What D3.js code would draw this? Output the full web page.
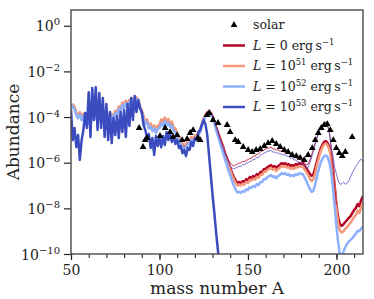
<!DOCTYPE html>
<html>
<head>
<meta charset="utf-8">
<script src="https://cdn.jsdelivr.net/npm/d3@7"></script>
<style>
  body { margin: 0; background: #fff; }
  svg { display: block; }
  text { font-family: "DejaVu Serif", serif; fill: #222; }
</style>
</head>
<body>
<div id="chart"></div>
<script>
// log10(abundance) per mass number, one value per integer A
var A_START = 50
var lum0 = [-3.60,-3.47,-3.60,-3.87,-4.00,-3.82,-4.09,-3.91,-4.18,-4.04,-4.22,-3.96,-4.09,-3.82,-4.00,-3.82,-4.00,-3.78,-4.04,-3.87,
  -4.13,-3.96,-4.18,-3.91,-4.04,-3.78,-3.91,-3.60,-3.69,-3.43,-3.56,-3.34,-3.52,-3.30,-3.43,-3.21,-3.34,-3.17,-3.26,-3.60,
  -3.78,-4.04,-4.26,-4.17,-4.44,-4.35,-4.57,-4.44,-4.66,-4.48,-4.44,-4.22,-4.35,-4.13,-4.31,-4.18,-4.39,-4.31,-4.57,-4.61,
  -4.83,-4.96,-5.14,-5.27,-5.31,-5.27,-5.14,-5.09,-4.96,-5.05,-4.88,-4.92,-4.74,-4.61,-4.35,-4.09,-3.91,-3.82,-3.74,-3.82,
  -3.96,-4.18,-4.44,-4.66,-4.88,-5.09,-5.31,-5.58,-5.80,-6.02,-6.24,-6.45,-6.63,-6.76,-6.89,-6.85,-6.89,-6.80,-6.85,-6.72,
  -6.76,-6.63,-6.67,-6.58,-6.63,-6.50,-6.54,-6.41,-6.41,-6.28,-6.28,-6.19,-6.15,-6.10,-6.19,-6.15,-6.24,-6.15,-6.10,-6.02,
  -6.06,-6.02,-6.10,-6.06,-6.15,-6.10,-6.15,-6.06,-6.10,-6.02,-6.06,-6.02,-6.15,-6.24,-6.37,-6.50,-6.58,-6.50,-6.24,-5.93,
  -5.66,-5.40,-5.23,-5.09,-5.05,-5.14,-5.31,-5.66,-6.24,-7.02,-7.85,-8.42,-8.69,-8.77,-8.69,-8.60,-8.51,-8.42,-8.34,-8.20,
  -8.07,-7.98,-7.81,-7.90,-7.63,-7.46]
var lum51 = [-3.55,-3.45,-3.56,-3.82,-3.95,-3.78,-4.03,-3.86,-4.12,-4.00,-4.17,-3.92,-4.04,-3.78,-3.95,-3.78,-3.95,-3.74,-3.99,-3.83,
  -4.08,-3.91,-4.12,-3.86,-3.98,-3.72,-3.84,-3.53,-3.62,-3.36,-3.50,-3.28,-3.46,-3.25,-3.38,-3.17,-3.30,-3.14,-3.22,-3.52,
  -3.70,-3.96,-4.18,-4.10,-4.35,-4.28,-4.48,-4.36,-4.56,-4.38,-4.32,-4.10,-4.22,-4.02,-4.20,-4.08,-4.28,-4.20,-4.46,-4.50,
  -4.72,-4.86,-5.04,-5.18,-5.22,-5.18,-5.06,-5.00,-4.88,-4.96,-4.80,-4.84,-4.66,-4.54,-4.30,-4.05,-3.88,-3.80,-3.74,-3.84,
  -4.00,-4.24,-4.50,-4.74,-4.96,-5.18,-5.40,-5.67,-5.90,-6.12,-6.34,-6.55,-6.73,-6.87,-7.00,-6.96,-7.00,-6.92,-6.96,-6.84,
  -6.88,-6.75,-6.78,-6.70,-6.74,-6.62,-6.66,-6.53,-6.53,-6.40,-6.40,-6.31,-6.27,-6.22,-6.31,-6.27,-6.36,-6.27,-6.22,-6.14,
  -6.18,-6.14,-6.22,-6.18,-6.27,-6.22,-6.27,-6.18,-6.22,-6.14,-6.18,-6.16,-6.30,-6.40,-6.55,-6.70,-6.80,-6.72,-6.44,-6.10,
  -5.80,-5.52,-5.34,-5.20,-5.15,-5.24,-5.42,-5.80,-6.40,-7.20,-8.05,-8.68,-8.98,-9.06,-9.00,-8.90,-8.82,-8.72,-8.62,-8.50,
  -8.38,-8.28,-8.10,-8.20,-7.92,-7.76]
var lum52 = [-3.62,-3.52,-3.66,-3.92,-4.06,-3.88,-4.14,-3.97,-4.24,-4.10,-4.28,-4.00,-4.14,-3.86,-4.04,-3.86,-4.03,-3.82,-4.08,-3.90,
  -4.16,-3.99,-4.22,-3.95,-4.08,-3.82,-3.95,-3.64,-3.73,-3.47,-3.60,-3.38,-3.56,-3.34,-3.47,-3.25,-3.38,-3.20,-3.30,-3.64,
  -3.82,-4.08,-4.30,-4.22,-4.50,-4.40,-4.62,-4.50,-4.70,-4.53,-4.48,-4.27,-4.40,-4.18,-4.36,-4.24,-4.44,-4.36,-4.62,-4.66,
  -4.88,-5.01,-5.20,-5.32,-5.36,-5.32,-5.20,-5.14,-5.01,-5.10,-4.93,-4.97,-4.80,-4.66,-4.40,-4.14,-3.96,-3.86,-3.80,-3.88,
  -4.04,-4.28,-4.56,-4.82,-5.08,-5.33,-5.58,-5.86,-6.10,-6.34,-6.56,-6.80,-7.00,-7.18,-7.30,-7.28,-7.32,-7.24,-7.28,-7.16,
  -7.20,-7.07,-7.10,-7.02,-7.06,-6.94,-6.98,-6.85,-6.85,-6.72,-6.72,-6.63,-6.59,-6.54,-6.63,-6.59,-6.68,-6.59,-6.54,-6.46,
  -6.50,-6.46,-6.54,-6.50,-6.59,-6.54,-6.59,-6.50,-6.54,-6.46,-6.50,-6.50,-6.65,-6.80,-7.00,-7.15,-7.28,-7.22,-6.95,-6.60,
  -6.30,-6.02,-5.84,-5.72,-5.68,-5.76,-5.98,-6.40,-7.10,-7.90,-8.80,-9.50,-10.05,-10.15,-9.90,-9.70,-9.55,-9.45,-9.38,-9.30,
  -9.20,-9.10,-8.98,-9.00,-8.88,-8.78]
var lum53 = [-3.69,-5.01,-4.48,-5.32,-4.79,-5.88,-5.01,-4.57,-3.82,-4.48,-2.91,-4.87,-2.73,-4.13,-2.69,-4.57,-2.95,-4.48,-3.17,-4.87,
  -3.43,-5.01,-3.78,-5.14,-4.04,-4.79,-3.96,-4.92,-3.78,-4.66,-3.69,-4.87,-3.43,-4.39,-3.17,-4.13,-3.08,-3.78,-3.26,-3.60,
  -3.78,-4.35,-4.57,-4.92,-4.74,-5.36,-4.92,-5.66,-4.83,-5.27,-4.92,-5.32,-4.83,-5.23,-4.66,-5.01,-4.74,-5.09,-4.83,-5.18,
  -5.01,-5.36,-5.27,-5.58,-5.44,-5.71,-5.36,-5.44,-5.09,-5.27,-4.92,-5.01,-4.66,-4.57,-4.31,-4.13,-4.31,-4.79,-5.67,-6.54,
  -7.42,-8.20,-9.05,-9.83,-10.60]
// thin curves, starting at A = 128
var THIN_START = 128
var thinRed = [-3.74,-3.82,-3.96,-4.13,-4.39,-4.61,-4.88,-5.09,-5.31,-5.53,-5.71,-5.88,-6.01,-6.10,-6.15,-6.10,-6.06,-6.01,-6.01,-5.93,
  -5.97,-5.88,-5.88,-5.80,-5.80,-5.71,-5.71,-5.62,-5.62,-5.53,-5.49,-5.44,-5.40,-5.36,-5.36,-5.31,-5.40,-5.40,-5.44,-5.44,
  -5.49,-5.49,-5.53,-5.53,-5.58,-5.58,-5.66,-5.66,-5.75,-5.75,-5.84,-5.84,-5.88,-5.93,-6.01,-6.10,-6.06,-5.88,-5.66,-5.40,
  -5.14,-4.88,-4.66,-4.48,-4.35,-4.26,-4.22,-4.35,-4.66,-5.27,-6.15,-7.02,-7.85]
var thinBlue = [-3.74,-3.82,-3.96,-4.15,-4.42,-4.66,-4.93,-5.16,-5.38,-5.62,-5.82,-6.00,-6.14,-6.24,-6.28,-6.24,-6.20,-6.15,-6.16,-6.07,
  -6.10,-6.01,-6.02,-5.94,-5.94,-5.85,-5.86,-5.76,-5.77,-5.67,-5.64,-5.58,-5.55,-5.50,-5.50,-5.45,-5.54,-5.53,-5.58,-5.57,
  -5.62,-5.62,-5.67,-5.66,-5.72,-5.71,-5.80,-5.79,-5.88,-5.88,-5.97,-5.97,-6.02,-6.06,-6.15,-6.24,-6.20,-6.00,-5.76,-5.48,
  -5.20,-4.93,-4.70,-4.50,-4.38,-4.28,-4.25,-4.38,-4.70,-5.30,-5.70,-6.20,-6.50,-6.80,-6.95,-6.92,-6.85,-6.95,-6.90,-6.80,
  -6.60,-6.45,-6.30,-6.15,-6.05,-5.90,-5.85,-5.98]
// solar abundances
var solarA = [88.5,90.7,91.9,93.0,100.3,103.2,106.0,107.7,110.0,112.8,115.6,117.3,119.0,121.8,123.0,126.9,128.1,130.3,133.1,138.2,
  139.9,142.8,144.5,147.3,150.1,152.4,154.6,156.9,159.2,161.4,163.7,166.0,168.2,170.5,172.7,175.0,177.3,179.5,181.8,184.0,
  186.3,188.0,189.7,191.4,193.1,194.8,196.5,198.2,199.9,201.6,203.3,205.0,208.9]
var solarLog = [-4.48,-5.31,-5.01,-4.92,-4.83,-4.48,-4.66,-4.87,-4.79,-5.01,-4.96,-4.70,-4.57,-4.92,-5.01,-3.91,-3.82,-4.13,-4.26,-4.35,
  -4.66,-5.01,-5.09,-5.31,-5.44,-5.53,-5.44,-5.40,-5.27,-5.14,-5.05,-5.18,-5.31,-5.44,-5.53,-5.66,-5.71,-5.79,-5.88,-5.66,
  -5.36,-5.01,-4.70,-4.48,-4.35,-4.31,-4.57,-5.01,-5.36,-5.58,-5.71,-5.53,-4.88]

var yTicks = [-10, -8, -6, -4, -2, 0]
var xTicks = [50, 100, 150, 200]
var legendNames = ["0", "10", "10", "10"]
var legendSups = ["", "51", "52", "53"]
var colors = ["#b40426", "#f4987a", "#8db0fe", "#3b4cc0"]

var width = 374
var height = 299
// plot box (pixels)
var pLeft = 71, pRight = 363, pTop = 10, pBottom = 254

var svg = d3.select("#chart").append("svg")
    .attr("width", width)
    .attr("height", height)

var x = d3.scaleLinear().domain([50, 215]).range([pLeft, pRight])
var y = d3.scaleLog().domain([1e-10, Math.pow(10, 0.69)]).range([pBottom, pTop])

svg.append("clipPath").attr("id", "clip")
    .append("rect")
    .attr("x", pLeft).attr("y", pTop)
    .attr("width", pRight - pLeft).attr("height", pBottom - pTop)

function toPoints(vals, start) {
    return vals.map((v, i) => [start + i, Math.pow(10, v)])
}

var line = d3.line()
    .x((d) => x(d[0]))
    .y((d) => y(d[1]))

var plot = svg.append("g").attr("clip-path", "url(#clip)")

function addLine(vals, start, color, w) {
    plot.append("path")
        .datum(toPoints(vals, start))
        .attr("fill", "none")
        .attr("stroke", color)
        .attr("stroke-width", w)
        .attr("stroke-linejoin", "round")
        .attr("d", line)
}

addLine(lum0, A_START, colors[0], 2.5)
addLine(lum51, A_START, colors[1], 2.5)
addLine(lum52, A_START, colors[2], 2.5)
addLine(lum53, A_START, colors[3], 2.5)
addLine(thinRed, THIN_START, colors[0], 0.8)
addLine(thinBlue, THIN_START, "#5c4fc4", 0.8)

var tri = d3.symbol().type(d3.symbolTriangle).size(20)
plot.selectAll(".solar")
    .data(solarA)
    .enter().append("path")
    .attr("class", "solar")
    .attr("d", tri)
    .attr("fill", "#000")
    .attr("transform", (d, i) => "translate(" + x(d) + "," + y(Math.pow(10, solarLog[i])) + ")")

// axes
var yAxis = d3.axisLeft(y)
    .tickValues(yTicks.map((e) => Math.pow(10, e)))
    .tickSize(7)
    .tickFormat("")
var gy = svg.append("g")
    .attr("transform", "translate(" + pLeft + ",0)")
    .call(yAxis)
gy.select(".domain").remove()
gy.selectAll(".tick line").attr("stroke", "#222").attr("stroke-width", 1.2)
gy.selectAll(".tick").each(function(d) {
    var e = Math.round(Math.log10(d))
    var t = d3.select(this).append("text")
        .attr("x", -11)
        .attr("y", 5)
        .attr("text-anchor", "end")
        .style("font-size", "14px")
        .attr("fill", "#222")
    t.append("tspan").text("10")
    t.append("tspan")
        .attr("dy", -6)
        .style("font-size", "10px")
        .text(e < 0 ? "\u2212" + (-e) : e)
})

var xMinor = d3.axisBottom(x)
    .tickValues(d3.range(50, 216, 10))
    .tickSize(4)
    .tickFormat("")
var gxm = svg.append("g")
    .attr("transform", "translate(0," + pBottom + ")")
    .call(xMinor)
gxm.select(".domain").remove()
gxm.selectAll(".tick line").attr("stroke", "#222").attr("stroke-width", 1.1)

var xAxis = d3.axisBottom(x)
    .tickValues(xTicks)
    .tickSize(6)
    .tickPadding(5)
var gx = svg.append("g")
    .attr("transform", "translate(0," + pBottom + ")")
    .call(xAxis)
gx.select(".domain").remove()
gx.selectAll(".tick line").attr("stroke", "#222").attr("stroke-width", 1.2)
gx.selectAll(".tick text")
    .style("font-size", "14px")
    .style("font-family", "DejaVu Serif, serif")
    .attr("fill", "#222")

// frame
svg.append("rect")
    .attr("x", pLeft).attr("y", pTop)
    .attr("width", pRight - pLeft).attr("height", pBottom - pTop)
    .attr("fill", "none")
    .attr("stroke", "#4a4a4a")
    .attr("stroke-width", 1.4)

// axis labels
svg.append("text")
    .attr("x", (pLeft + pRight) / 2)
    .attr("y", 294)
    .attr("text-anchor", "middle")
    .style("font-size", "17px")
    .text("mass number A")

svg.append("text")
    .attr("transform", "translate(19,132) rotate(-90)")
    .attr("text-anchor", "middle")
    .style("font-size", "17px")
    .text("Abundance")

// legend
var legend = svg.append("g")
legend.append("path")
    .attr("d", tri)
    .attr("fill", "#000")
    .attr("transform", "translate(234,25)")
legend.append("text")
    .attr("x", 253).attr("y", 29)
    .style("font-size", "12.5px")
    .text("solar")

legendNames.forEach((n, i) => {
    var ly = 45.5 + i * 20.5
    legend.append("line")
        .attr("x1", 223).attr("x2", 245)
        .attr("y1", ly).attr("y2", ly)
        .attr("stroke", colors[i])
        .attr("stroke-width", 2.5)
    var t = legend.append("text")
        .attr("x", 253).attr("y", ly + 4)
        .style("font-size", "12.5px")
    t.append("tspan").style("font-style", "italic").text("L")
    t.append("tspan").text(" = " + n)
    if (legendSups[i] != "") {
        t.append("tspan").attr("dy", -5).style("font-size", "8.5px").text(legendSups[i])
        t.append("tspan").attr("dy", 5).text(" erg\u2009s")
    } else {
        t.append("tspan").text(" erg\u2009s")
    }
    t.append("tspan").attr("dy", -5).style("font-size", "8.5px").text("\u22121")
})
</script>
</body>
</html>
